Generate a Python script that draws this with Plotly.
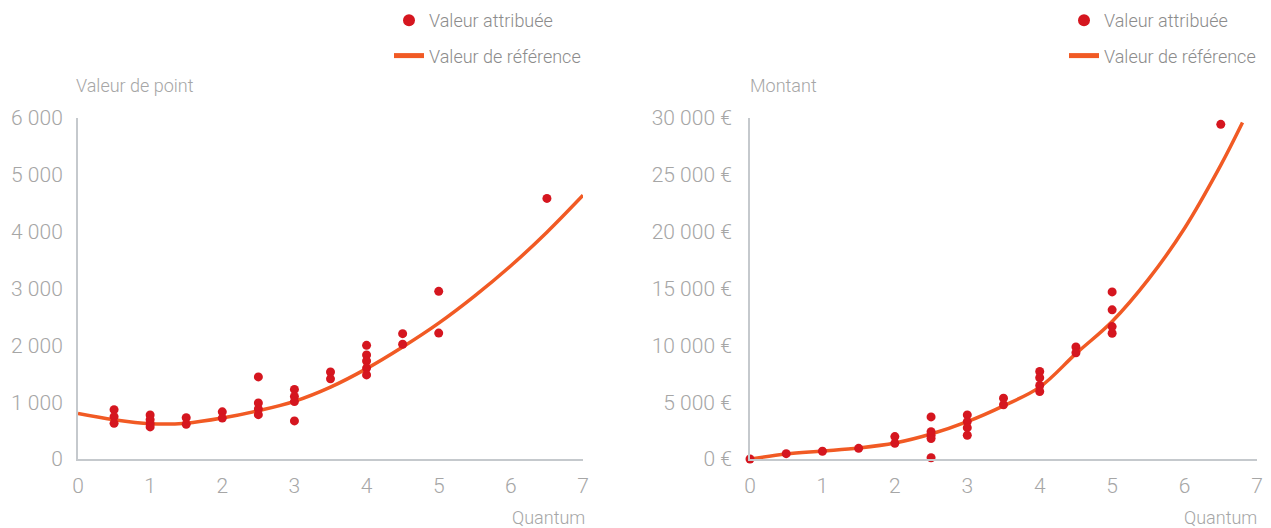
import plotly.graph_objects as go

# ---- Points: valeur de point (left panel) ----
pts_q = [0.5, 0.5, 0.5, 1, 1, 1, 1, 1.5, 1.5, 2, 2, 2.5, 2.5, 2.5, 2.5,
         3, 3, 3, 3, 3.5, 3.5, 4, 4, 4, 4, 4, 4.5, 4.5, 5, 5, 6.5]
pts_val = [868, 745, 628, 775, 690, 620, 565, 725, 610, 830, 720, 1445, 985, 880, 780,
           1225, 1100, 1010, 670, 1530, 1410, 2000, 1830, 1725, 1600, 1480, 2205, 2020,
           2950, 2215, 4585]

ref_q = [0, 0.5, 1, 1.5, 2, 2.5, 3, 3.5, 4, 4.5, 5, 5.5, 6, 6.5, 7]
ref_val = [800, 690, 620, 630, 720, 850, 1015, 1265, 1590, 1970, 2390, 2870, 3400, 3990, 4640]

# ---- Montants (right panel) ----
amt_q = [0, 0.5, 1, 1.5, 2, 2, 2.5, 2.5, 2.5, 2.5, 2.5,
         3, 3, 3, 3, 3.5, 3.5, 4, 4, 4, 4, 4.5, 4.5, 5, 5, 5, 5, 6.5]
amt_val = [0, 470, 680, 940, 1970, 1390, 3700, 2400, 2100, 1800, 110,
           3880, 3290, 2760, 2090, 5350, 4770, 7700, 7150, 6470, 5940, 9850, 9350,
           14700, 13120, 11650, 11060, 29440]

amt_ref_q = [0, 0.5, 1, 1.5, 2, 2.5, 3, 3.5, 4, 4.5, 5, 5.5, 6, 6.5, 6.8]
amt_ref_val = [0, 440, 700, 970, 1410, 2200, 3290, 4680, 6320, 9270, 12100, 15800, 20300,
               25850, 29600]

# ---- Axis ticks ----
x_ticks = [0, 1, 2, 3, 4, 5, 6, 7]
y1_ticks = [0, 1000, 2000, 3000, 4000, 5000, 6000]
y1_text = ["0", "1 000", "2 000", "3 000", "4 000", "5 000", "6 000"]
y2_ticks = [0, 5000, 10000, 15000, 20000, 25000, 30000]
y2_text = ["0 €", "5 000 €", "10 000 €", "15 000 €", "20 000 €", "25 000 €", "30 000 €"]

RED = "#d5161f"
ORANGE = "#f15a24"
AXIS = "#c5c9cd"
GREY = "#a6a6a6"
LEG = "#8c8c8c"
FONT = "Roboto Light, Roboto, sans-serif"

W, H = 1271, 528
ML, MR, MT, MB = 78, 14, 118, 69
PW = W - ML - MR
PH = H - MT - MB


def px(x):
    return (x - ML) / PW


def py(y):
    return (H - MB - y) / PH


fig = go.Figure()

# reference curves first so the points sit on top of them
fig.add_trace(go.Scatter(
    x=ref_q, y=ref_val, mode="lines", name="Valeur de référence",
    line=dict(color=ORANGE, width=3.5, shape="spline"), cliponaxis=False,
    xaxis="x", yaxis="y", legend="legend", legendgroup="b", legendrank=2))
fig.add_trace(go.Scatter(
    x=pts_q, y=pts_val, mode="markers", name="Valeur attribuée",
    marker=dict(color=RED, size=9), cliponaxis=False,
    xaxis="x", yaxis="y", legend="legend", legendgroup="a", legendrank=1))

fig.add_trace(go.Scatter(
    x=amt_ref_q, y=amt_ref_val, mode="lines", name="Valeur de référence",
    line=dict(color=ORANGE, width=3.5, shape="spline"), cliponaxis=False,
    xaxis="x2", yaxis="y2", legend="legend2", legendgroup="d", legendrank=2))
fig.add_trace(go.Scatter(
    x=amt_q, y=amt_val, mode="markers", name="Valeur attribuée",
    marker=dict(color=RED, size=9), cliponaxis=False,
    xaxis="x2", yaxis="y2", legend="legend2", legendgroup="c", legendrank=1))

tickfont = dict(family=FONT, size=21, color=GREY, weight=300)

xcommon = dict(range=[0, 7], tickvals=x_ticks, showline=True, linecolor=AXIS,
               linewidth=2, showgrid=False, zeroline=False, ticks="",
               tickfont=tickfont, ticklabelstandoff=7, fixedrange=True,
               automargin=False)
ycommon = dict(showline=True, linecolor=AXIS, linewidth=2, showgrid=False,
               zeroline=False, ticks="", tickfont=tickfont, fixedrange=True,
               automargin=False)

legcommon = dict(font=dict(family=FONT, size=18, color=LEG, weight=300),
                 bgcolor="rgba(0,0,0,0)", borderwidth=0, tracegroupgap=9,
                 itemsizing="constant", xanchor="left", yanchor="middle",
                 xref="container", yref="container",
                 orientation="v", traceorder="grouped")

fig.update_layout(
    width=W, height=H,
    margin=dict(l=ML, r=MR, t=MT, b=MB, autoexpand=False),
    paper_bgcolor="white", plot_bgcolor="white",
    font=dict(family=FONT, color=GREY),
    xaxis=dict(domain=[0, px(583)], anchor="y", **xcommon),
    yaxis=dict(domain=[0, 1], anchor="x", range=[0, 6000], tickvals=y1_ticks,
               ticktext=y1_text, ticklabelstandoff=9, **ycommon),
    xaxis2=dict(domain=[px(750), 1], anchor="y2", **xcommon),
    yaxis2=dict(domain=[0, 1], anchor="x2", range=[0, 30000], tickvals=y2_ticks,
                ticktext=y2_text, ticklabelstandoff=12, **ycommon),
    legend=dict(x=389 / W, y=1 - 38 / H, **legcommon),
    legend2=dict(x=1064 / W, y=1 - 38 / H, **legcommon),
    showlegend=True,
)

titlefont = dict(family=FONT, size=18, color=GREY, weight=300)
for text, x, y, anchor in [
    ("Valeur de point", 74, 85, "left"),
    ("Quantum", 587, 517, "right"),
    ("Montant", 748, 85, "left"),
    ("Quantum", 1259, 517, "right"),
]:
    fig.add_annotation(text=text, xref="paper", yref="paper", x=px(x), y=py(y),
                       xanchor=anchor, yanchor="middle", showarrow=False,
                       font=titlefont)

fig.write_html("out.html")
